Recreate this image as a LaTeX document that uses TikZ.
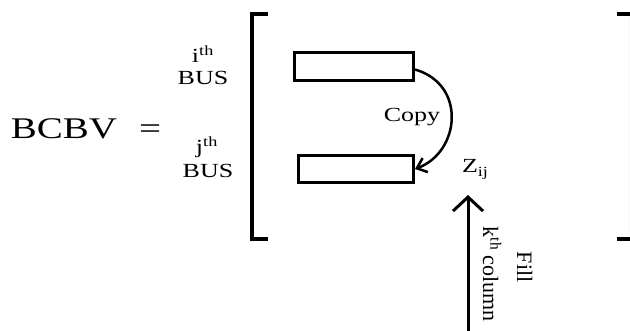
\documentclass[tikz,border=0pt]{standalone}
\usepackage{fontspec}
\setmainfont{Liberation Serif}
\usetikzlibrary{arrows.meta}
% text set a little wider than the font's own proportions
\newcommand\hwide[1]{\scalebox{1.3}[1]{#1}}
\tikzset{
  lbl/.style={inner sep=0pt, outer sep=0pt},
  slot/.style={draw, line width=3pt, rectangle, inner sep=0pt},
  bracket/.style={line width=3.5pt},
  copyarc/.style={line width=2.5pt, -{Straight Barb[length=9pt,width=15pt,line width=2.5pt]}},
  fillarrow/.style={line width=3pt, -{Straight Barb[length=14pt,width=30pt,line width=3pt]}}
}
\begin{document}
\begin{tikzpicture}[x=1pt,y=-1pt]
\fill[white] (0,0) rectangle (630,331);
\useasboundingbox (0,0) rectangle (630,331);

% left-hand side of the equation
\node[lbl, font=\fontsize{30}{36}\selectfont, anchor=base] (bcbv) at (64,139) {\hwide{BCBV}};
\node[lbl, font=\fontsize{30}{36}\selectfont, anchor=base] (eq) at (150,139) {\hwide{=}};

% row labels
\node[lbl, font=\fontsize{20}{24}\selectfont, anchor=base] (ith) at (203,63) {\hwide{i\textsuperscript{th}}};
\node[lbl, font=\fontsize{20}{24}\selectfont, anchor=base] (ibus) at (203,85) {\hwide{BUS}};
\node[lbl, font=\fontsize{20}{24}\selectfont, anchor=base] (jth) at (207,154) {\hwide{j\textsuperscript{th}}};
\node[lbl, font=\fontsize{20}{24}\selectfont, anchor=base] (jbus) at (208,178) {\hwide{BUS}};

% matrix brackets
\draw[bracket] (268,14) -- (252,14) -- (252,239) -- (268,239);
\draw[black!4, line width=0.8pt] (628,14) -- (628,239);
\draw[bracket] (617,14) -- (630,14);
\draw[bracket] (617,239) -- (630,239);

% row blocks
\node[slot, minimum width=119pt, minimum height=28pt] (ri) at (354,66.5) {};
\node[slot, minimum width=115pt, minimum height=27pt] (rj) at (356,169) {};

% copy step
\draw[copyarc] ([yshift=-3pt]ri.east) .. controls +(52,15) and +(45,-17) .. (rj.east);
\node[lbl, font=\fontsize{20}{24}\selectfont, anchor=base] (copy) at (412,122) {\hwide{Copy}};

% element label
\node[lbl, font=\fontsize{20}{24}\selectfont, anchor=base west] (zij) at (462,173) {\hwide{Z\textsubscript{ij}}};

% fill arrow
\coordinate (fillbase) at (468,331);
\coordinate (filltip) at (468,195);
\draw[fillarrow] (fillbase) -- (filltip);
\node[lbl, font=\fontsize{22}{26}\selectfont, rotate=-90, anchor=base west] (fillw) at (517,252) {Fill};
\node[lbl, font=\fontsize{22}{26}\selectfont, rotate=-90, anchor=base west] (kcol) at (483,227) {k\textsuperscript{th} column};
\end{tikzpicture}
\end{document}
